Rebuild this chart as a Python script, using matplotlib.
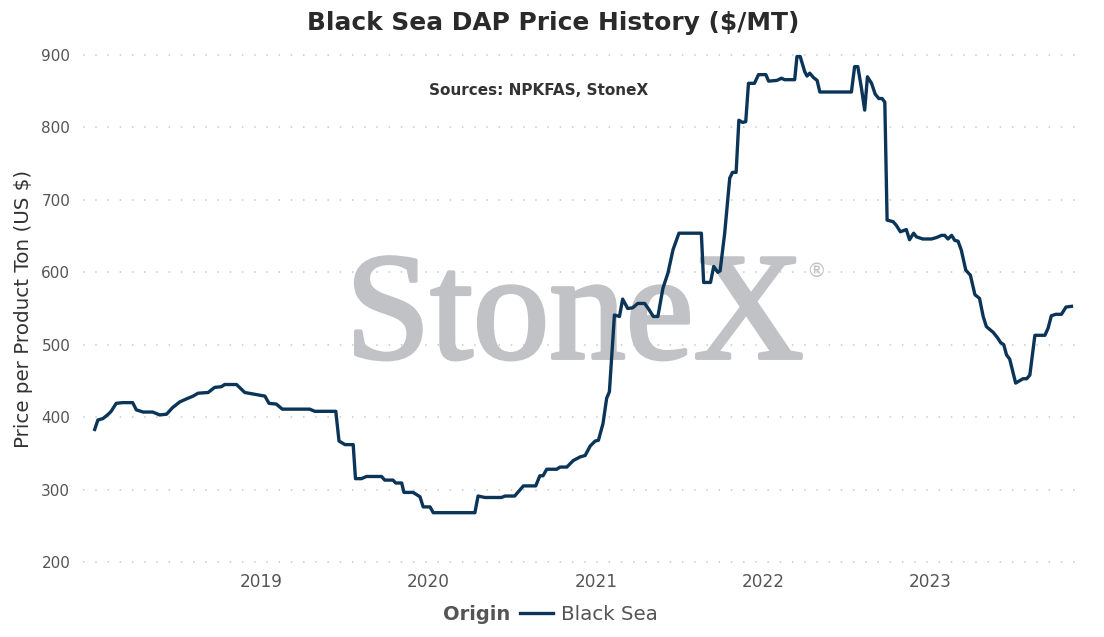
import matplotlib
matplotlib.use("Agg")
import matplotlib.pyplot as plt
import matplotlib.dates as mdates
import matplotlib.patheffects as pe
import pandas as pd

# --- DATA ---
dates = [
    "2018-01-01", "2018-01-08", "2018-01-19", "2018-01-29", "2018-02-06", "2018-02-17",
    "2018-03-03", "2018-03-25", "2018-04-02", "2018-04-17", "2018-05-08", "2018-05-23",
    "2018-06-07", "2018-06-20", "2018-07-06", "2018-07-20", "2018-08-04", "2018-08-15",
    "2018-09-06", "2018-09-20", "2018-10-05", "2018-10-12", "2018-11-07", "2018-11-25",
    "2018-12-13", "2019-01-08", "2019-01-17", "2019-02-02", "2019-02-15", "2019-04-16",
    "2019-04-27", "2019-06-12", "2019-06-19", "2019-07-02", "2019-07-20", "2019-07-25",
    "2019-08-07", "2019-08-18", "2019-09-20", "2019-09-27", "2019-10-15", "2019-10-21",
    "2019-11-03", "2019-11-08", "2019-11-28", "2019-12-13", "2019-12-20", "2020-01-04",
    "2020-01-11", "2020-04-11", "2020-04-18", "2020-05-03", "2020-06-08", "2020-06-16",
    "2020-07-07", "2020-07-26", "2020-08-22", "2020-08-31", "2020-09-07", "2020-09-15",
    "2020-10-07", "2020-10-14", "2020-10-29", "2020-11-12", "2020-11-27", "2020-12-08",
    "2020-12-19", "2020-12-30", "2021-01-06", "2021-01-16", "2021-01-24", "2021-01-30",
    "2021-02-10", "2021-02-21", "2021-02-28", "2021-03-11", "2021-03-22", "2021-04-02",
    "2021-04-17", "2021-04-26", "2021-05-06", "2021-05-16", "2021-05-27", "2021-06-07",
    "2021-06-18", "2021-07-01", "2021-08-19", "2021-08-24", "2021-09-08", "2021-09-15",
    "2021-09-24", "2021-09-29", "2021-10-09", "2021-10-20", "2021-10-26", "2021-11-03",
    "2021-11-09", "2021-11-17", "2021-11-24", "2021-11-30", "2021-12-13", "2021-12-22",
    "2022-01-07", "2022-01-13", "2022-01-31", "2022-02-10", "2022-02-17", "2022-03-11",
    "2022-03-16", "2022-03-23", "2022-04-02", "2022-04-07", "2022-04-13", "2022-04-21",
    "2022-04-29", "2022-05-05", "2022-07-13", "2022-07-20", "2022-07-27", "2022-08-04",
    "2022-08-11", "2022-08-17", "2022-08-26", "2022-09-03", "2022-09-11", "2022-09-18",
    "2022-09-24", "2022-09-29", "2022-10-12", "2022-10-19", "2022-10-28", "2022-11-10",
    "2022-11-17", "2022-11-26", "2022-12-02", "2022-12-16", "2023-01-04", "2023-01-15",
    "2023-01-26", "2023-02-02", "2023-02-09", "2023-02-17", "2023-02-24", "2023-03-03",
    "2023-03-10", "2023-03-20", "2023-03-30", "2023-04-09", "2023-04-19", "2023-04-27",
    "2023-05-04", "2023-05-19", "2023-05-29", "2023-06-04", "2023-06-11", "2023-06-17",
    "2023-06-24", "2023-07-07", "2023-07-23", "2023-07-31", "2023-08-07", "2023-08-18",
    "2023-09-09", "2023-09-16", "2023-09-23", "2023-10-03", "2023-10-15", "2023-10-25",
    "2023-11-06",
]
black_sea = [
    383, 396, 398, 403, 408, 419,
    420, 420, 410, 407, 407, 403,
    404, 413, 421, 425, 429, 433,
    434, 441, 442, 445, 445, 434,
    432, 429, 419, 418, 411, 411,
    408, 408, 367, 362, 362, 315,
    315, 318, 318, 313, 313, 309,
    309, 296, 296, 290, 276, 276,
    268, 268, 291, 289, 289, 291,
    291, 305, 305, 319, 319, 328,
    328, 331, 331, 340, 345, 347,
    360, 367, 368, 391, 426, 435,
    541, 539, 563, 550, 551, 557,
    557, 549, 539, 539, 578, 599,
    631, 654, 654, 586, 586, 608,
    600, 602, 654, 730, 738, 738,
    810, 807, 808, 861, 861, 873,
    873, 864, 865, 868, 866, 866,
    898, 898, 877, 871, 875, 869,
    865, 849, 849, 884, 884, 854,
    824, 870, 861, 846, 840, 840,
    835, 672, 670, 665, 656, 659,
    645, 654, 649, 646, 646, 648,
    651, 651, 646, 651, 644, 643,
    631, 603, 596, 569, 564, 539,
    525, 517, 509, 503, 500, 486,
    480, 447, 453, 453, 458, 513,
    513, 523, 540, 542, 542, 552,
    553,
]
y_ticks = [200, 300, 400, 500, 600, 700, 800, 900]
x_ticks = ["2019-01-01", "2020-01-01", "2021-01-01", "2022-01-01", "2023-01-01"]

dt = pd.to_datetime(dates)

fig = plt.figure(figsize=(11.04, 6.37), dpi=100)
ax = fig.add_axes([0.075, 0.1099, 0.903, 0.8116])

# watermark
wm_color = "#c1c2c5"
ax.text(0.4935, 0.404, "StoneX", transform=ax.transAxes, ha="center", va="baseline",
        fontsize=110, family="Liberation Serif", color=wm_color, zorder=0,
        path_effects=[pe.withStroke(linewidth=2.6, foreground=wm_color)])
ax.text(0.736, 0.571, "\u00ae", transform=ax.transAxes, ha="center", va="center",
        fontsize=14, color=wm_color, zorder=0)

line, = ax.plot(dt, black_sea, color="#0b3558", linewidth=2.4, zorder=3,
                solid_joinstyle="round", clip_on=False)

ax.set_ylim(193, 907)
ax.set_xlim(pd.Timestamp("2017-12-06"), pd.Timestamp("2023-11-24"))
ax.set_yticks(y_ticks)
ax.set_xticks(pd.to_datetime(x_ticks))
ax.xaxis.set_major_formatter(mdates.DateFormatter("%Y"))
ax.grid(axis="y", color="#c8c8c8", linestyle=(0, (1, 7)), linewidth=1.1, zorder=1)
ax.set_axisbelow(True)
for s in ax.spines.values():
    s.set_visible(False)
ax.tick_params(axis="both", length=0, labelcolor="#555555")
ax.tick_params(axis="x", pad=4, labelsize=12.2)
ax.tick_params(axis="y", pad=9, labelsize=11)

ax.set_ylabel("Price per Product Ton (US $)", fontsize=14.3, color="#333333", labelpad=6)

fig.text(0.501, 0.964, "Black Sea DAP Price History ($/MT)", ha="center", va="center",
         fontsize=17.9, fontweight="bold", color="#2a2a2a")
ax.text(0.457, 0.921, "Sources: NPKFAS, StoneX", transform=ax.transAxes, ha="center",
        va="center", fontsize=11, fontweight="bold", color="#333333")

# legend at the bottom
fig.text(0.462, 0.036, "Origin", ha="right", va="center", fontsize=14,
         fontweight="bold", color="#555555")
fig.legend([line], ["Black Sea"], loc="center left", bbox_to_anchor=(0.471, 0.036),
           frameon=False, fontsize=14.3, handlelength=1.66, handletextpad=0.4,
           labelcolor="#555555", borderpad=0, borderaxespad=0)

fig.savefig("out.png", dpi=100)
